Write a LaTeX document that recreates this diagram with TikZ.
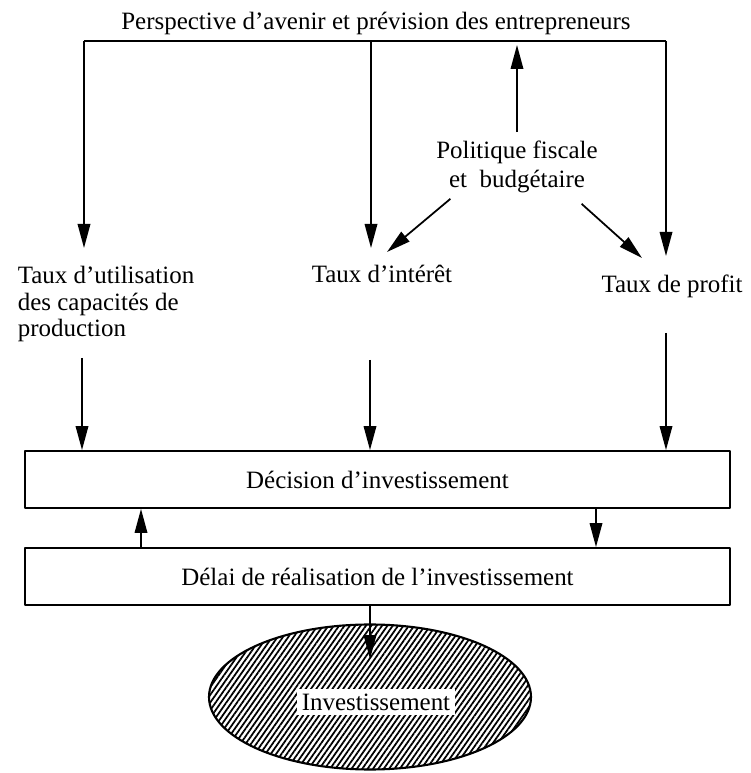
\documentclass[tikz,border=0pt]{standalone}
\usepackage{fontspec}
\setmainfont{Liberation Serif}
\usetikzlibrary{arrows.meta,shapes.geometric,patterns.meta}
\begin{document}
\begin{tikzpicture}[font=\fontsize{14.2}{16}\selectfont, line join=round, >={Triangle[length=4.8mm,width=2.5mm]}, line width=1pt,
 txt/.style={inner sep=0pt},
 boite/.style={draw, minimum width=14.1cm, minimum height=1.14cm, inner sep=0pt}]
 \useasboundingbox (0,0) rectangle (15.02,15.46);
 \node[txt,anchor=base] (persp) at (7.52,14.86) {Perspective d'avenir et prévision des entrepreneurs};
 \coordinate (tl) at (1.68,14.64);
 \coordinate (tm) at (7.42,14.64);
 \coordinate (tr) at (13.32,14.64);
 \node[txt,align=center,font=\fontsize{14.2}{16.5}\selectfont] (polit) at (10.34,12.12) {Politique fiscale\\et~~budgétaire};
 \node[txt,anchor=north west,align=left,font=\fontsize{14.2}{15.3}\selectfont] (util) at (0.34,10.16) {Taux d'utilisation\\des capacités de\\production};
 \node[txt,anchor=base] (inter) at (7.64,9.80) {Taux d'intérêt};
 \node[txt,anchor=base] (profit) at (13.44,9.60) {Taux de profit};
 \node[boite] (decis) at (7.55,5.87) {Décision d'investissement};
 \node[boite] (delai) at (7.55,3.93) {Délai de réalisation de l'investissement};
 \node[ellipse,draw,line width=1.2pt,minimum width=6.44cm,minimum height=2.9cm,pattern={Lines[angle=55,distance=2.5pt,line width=1pt]}] (invest) at (7.40,1.52) {};
 \node[txt,fill=white,inner sep=2.5pt] (investtxt) at (7.52,1.42) {Investissement};
 % haut
 \draw (tl) -- (tm) -- (tr);
 \coordinate (bu) at (1.68,10.50);
 \coordinate (bm) at (7.42,10.50);
 \coordinate (br) at (13.32,10.34);
 \draw[->] (tl) -- (bu);
 \draw[->] (tm) -- (bm);
 \draw[->] (tr) -- (br);
 \draw[->] ([yshift=0.16cm]polit.north) -- ([yshift=-0.08cm]polit.north |- tl);
 \coordinate (ti) at (7.74,10.42);
 \coordinate (tp) at (12.84,10.30);
 \draw[->] ([shift={(0.3,-0.1)}]polit.south west) -- (ti);
 \draw[->] ([shift={(-0.34,-0.2)}]polit.south east) -- (tp);
 % vers la decision
 \coordinate (hu) at (1.64,8.30);
 \coordinate (hm) at (7.40,8.26);
 \coordinate (hr) at (13.32,8.80);
 \draw[->] (hu) -- (hu |- decis.north);
 \draw[->] (hm) -- (hm |- decis.north);
 \draw[->] (hr) -- (hr |- decis.north);
 % bas
 \draw[->] ([xshift=-4.73cm]delai.north) -- ([xshift=-4.73cm]decis.south);
 \draw[->] ([xshift=4.37cm]decis.south) -- ([xshift=4.37cm]delai.north);
 \draw[->] (delai.south -| invest) -- ([yshift=-0.71cm]invest.north);
\end{tikzpicture}
\end{document}
